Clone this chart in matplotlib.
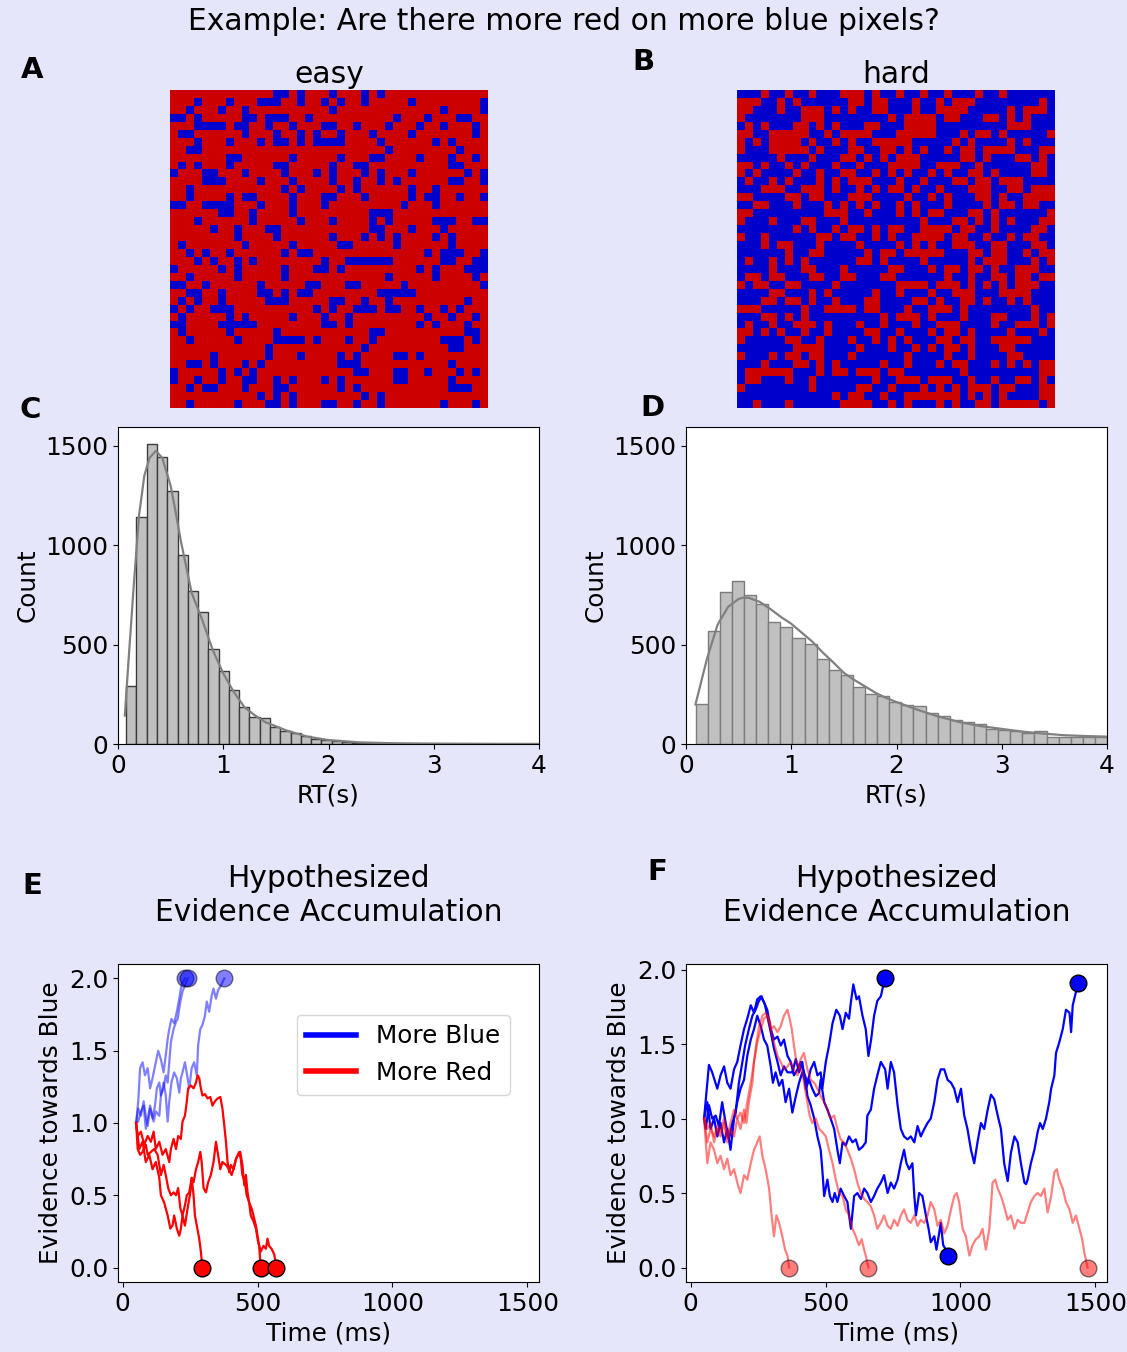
import numpy as np
import matplotlib
matplotlib.use("Agg")
import matplotlib.pyplot as plt
from matplotlib.colors import ListedColormap
from matplotlib.lines import Line2D

# ---- pixel grids (40x40): blue columns per row for "easy", red columns per row for "hard"
easy_blue_cols = [
    [13, 14, 16, 20, 24, 26],
    [3, 7, 11, 12, 13, 16, 19, 21, 24, 30, 39],
    [2, 6, 9, 20, 34, 39],
    [0, 1, 3, 9, 10, 12, 13, 14, 17, 28, 32, 36, 37],
    [3, 4, 5, 6, 8, 9, 12, 15, 19, 20, 23, 27, 31, 34, 38],
    [1, 2, 9, 13, 16, 18, 21, 25, 30, 38],
    [3, 7, 11, 13, 14, 16, 18, 19, 20, 21, 26, 33, 35],
    [2, 3, 27, 36],
    [7, 8, 15, 21, 25, 26, 31, 35, 38],
    [1, 3, 7, 13, 14, 20, 23, 24, 35, 36],
    [0, 4, 5, 9, 14, 18, 20, 24, 26, 30, 37, 39],
    [4, 5, 6, 11, 15, 20, 23, 26, 28, 35, 36, 39],
    [2, 14, 16, 21, 23, 30, 33],
    [2, 7, 9, 10, 15, 19, 20, 24, 30, 32, 33, 36, 39],
    [0, 1, 4, 5, 6, 7, 11, 15, 19, 29, 33],
    [6, 7, 10, 15, 25, 26, 27],
    [3, 10, 16, 20, 25, 27, 33, 34, 35, 38, 39],
    [5, 8, 12, 13, 25, 26, 30, 34],
    [8, 13, 20, 24, 26, 28, 33, 35],
    [1, 9, 15, 21, 22, 28, 35],
    [2, 4, 7, 14, 16, 17, 32, 34, 35, 36, 39],
    [3, 5, 8, 10, 19, 22, 23, 24, 25, 26, 27, 34, 35, 38, 39],
    [0, 6, 8, 14, 18, 19, 21, 31, 33, 37, 38, 39],
    [2, 8, 14, 27, 33, 38],
    [0, 1, 4, 11, 17, 18, 22, 23, 29, 39],
    [2, 3, 6, 11, 12, 14, 16, 17, 26, 27, 28, 29, 30],
    [1, 3, 6, 12, 13, 14, 20, 21, 24, 27, 37],
    [0, 2, 5, 6, 7, 18, 20, 23, 24, 25, 27, 28, 31, 34, 36],
    [1, 7, 9, 15, 19, 22, 32, 35, 38],
    [0, 1, 6, 7, 8, 9, 10, 19, 20, 22, 31, 33, 37],
    [1, 7, 13, 25, 26, 37, 38],
    [2, 8, 13, 14, 15, 16, 18, 22, 25, 34, 35, 36, 38],
    [12, 24, 35, 36],
    [5, 12, 16, 21, 23, 28, 29, 31],
    [2, 3, 5, 9, 11, 21, 22, 23, 35],
    [0, 6, 8, 10, 23, 24, 28, 29, 32, 36, 38],
    [0, 3, 6, 9, 10, 13, 15, 19, 21, 28, 29, 35],
    [2, 4, 5, 9, 13, 14, 21, 23, 35, 36, 37],
    [11, 13, 15, 24, 26],
    [2, 8, 12, 13, 15, 19, 20, 23, 26, 34, 38],
]

hard_red_cols = [
    [3, 6, 9, 13, 14, 15, 17, 20, 23, 26, 30, 33],
    [0, 1, 2, 5, 7, 14, 15, 17, 18, 22, 25, 27, 28, 29, 38],
    [0, 1, 5, 8, 9, 10, 12, 14, 17, 18, 22, 25, 26, 27, 28, 34, 36, 37, 38],
    [0, 8, 9, 10, 19, 21, 22, 23, 24, 26, 27, 31, 32, 34, 36],
    [1, 3, 7, 8, 10, 12, 16, 17, 21, 22, 23, 24, 34, 35, 36],
    [0, 1, 4, 5, 6, 7, 8, 11, 13, 14, 15, 16, 20, 21, 22, 23, 24, 28, 30, 31, 33, 39],
    [0, 2, 4, 5, 6, 7, 9, 12, 14, 17, 18, 19, 20, 21, 27, 29, 34, 36],
    [0, 4, 5, 6, 7, 8, 10, 14, 15, 18, 19, 21, 23, 26, 28, 29, 31, 32, 33, 34, 38, 39],
    [5, 9, 13, 14, 16, 18, 20, 21, 22, 28, 29, 31, 35, 36, 38],
    [0, 1, 3, 6, 8, 12, 15, 19, 20, 21, 22, 25, 26, 27, 30, 37, 38],
    [0, 2, 7, 10, 13, 14, 17, 19, 21, 24, 26, 29, 30, 32, 37, 38],
    [1, 4, 6, 10, 12, 14, 15, 16, 20, 23, 27, 28, 30, 31, 33, 34, 35],
    [3, 4, 5, 8, 9, 10, 12, 15, 17, 19, 20, 22, 25, 29, 30, 31, 34, 35, 37, 38, 39],
    [0, 1, 6, 7, 9, 10, 14, 15, 16, 21, 24, 26, 30, 31, 33, 36, 37, 38, 39],
    [2, 3, 7, 11, 13, 15, 17, 20, 22, 26, 31, 33, 34, 36, 37],
    [0, 1, 11, 12, 13, 16, 20, 22, 24, 25, 29, 30, 32, 39],
    [0, 4, 8, 9, 13, 23, 27, 28, 30, 32, 34, 38, 39],
    [7, 9, 12, 14, 15, 17, 19, 20, 23, 24, 25, 26, 28, 29, 32, 37, 38],
    [0, 3, 10, 11, 13, 14, 17, 19, 22, 23, 24, 25, 27, 28, 31, 34, 36, 37],
    [3, 5, 6, 10, 15, 20, 22, 24, 27, 28, 29, 32, 33, 37, 38],
    [6, 9, 10, 16, 18, 19, 21, 22, 23, 24, 25, 29, 30, 32, 33, 36, 38, 39],
    [1, 4, 6, 8, 15, 16, 18, 23, 29, 31, 32, 33, 37, 39],
    [4, 8, 9, 13, 19, 20, 24, 26, 27, 29, 30, 32, 35, 36, 37],
    [1, 2, 4, 5, 9, 10, 13, 14, 18, 19, 26, 29, 32, 33, 35, 36, 38, 39],
    [0, 2, 3, 6, 7, 12, 20, 21, 22, 23, 25, 26, 27, 29, 31, 33, 35, 36, 37],
    [4, 5, 9, 11, 17, 20, 24, 27, 28, 29, 33, 34, 35, 36],
    [3, 4, 6, 7, 9, 12, 16, 17, 22, 23, 25, 28, 29, 31, 34, 36],
    [0, 1, 2, 8, 11, 12, 13, 14, 16, 17, 21, 24, 25, 26, 28, 37],
    [3, 4, 6, 8, 18, 20, 21, 22, 24, 28, 32, 33, 37, 39],
    [1, 4, 7, 8, 9, 11, 15, 18, 22, 25, 26, 27, 32, 35, 36, 37, 39],
    [0, 1, 3, 5, 8, 11, 16, 17, 20, 24, 26, 27, 29, 34, 38],
    [0, 6, 7, 10, 14, 17, 19, 21, 25, 26, 28, 29, 32, 33, 34, 35, 36],
    [7, 8, 9, 10, 15, 19, 22, 24, 26, 27, 29, 33, 34],
    [0, 4, 6, 7, 9, 10, 14, 21, 26, 29, 34, 35],
    [3, 7, 8, 10, 12, 18, 21, 25, 27, 28, 32, 34, 36, 38, 39],
    [1, 2, 3, 4, 5, 6, 10, 12, 13, 15, 16, 17, 19, 20, 28, 38, 39],
    [1, 2, 6, 9, 17, 20, 21, 22, 24, 25, 26, 29, 32, 35, 36, 38],
    [0, 9, 15, 16, 19, 23, 25, 27, 29, 30, 31, 33, 34, 38, 39],
    [12, 14, 15, 18, 21, 22, 23, 24, 25, 26, 27, 29, 31, 33, 38, 39],
    [2, 6, 13, 14, 15, 16, 19, 21, 25, 27, 30, 31, 33, 34, 35, 36, 37, 39],
]

# ---- RT histograms (counts per bin) and KDE curves
easy_bin_start, easy_bin_width = 0.078, 0.0976
easy_counts = [294, 1144, 1507, 1444, 1274, 949, 772, 664, 476, 368, 270, 186, 135, 130,
               84, 64, 57, 39, 25, 22, 14, 12, 6, 5, 3, 3, 2, 2, 1, 1, 1, 1, 0, 1]
easy_kde_x = [0.065, 0.1, 0.15, 0.2, 0.25, 0.3, 0.36, 0.42, 0.5, 0.55, 0.6, 0.7, 0.8, 0.9,
              1.0, 1.1, 1.2, 1.3, 1.4, 1.6, 1.8, 2.0, 2.3, 2.6, 3.0, 3.5, 4.0]
easy_kde_y = [143, 420, 800, 1150, 1350, 1440, 1475, 1440, 1300, 1160, 1014, 760, 625, 473,
              355, 262, 186, 144, 110, 68, 37, 20, 8, 4, 2, 1, 0.5]

hard_bin_start, hard_bin_width = 0.091, 0.115
hard_counts = [199, 570, 767, 818, 752, 705, 614, 587, 531, 503, 430, 371, 346, 287, 250,
               243, 211, 197, 189, 155, 142, 123, 110, 101, 76, 72, 64, 57, 67, 37, 35, 35,
               34, 33]
hard_kde_x = [0.09, 0.2, 0.3, 0.4, 0.5, 0.55, 0.6, 0.7, 0.8, 0.9, 1.0, 1.1, 1.2, 1.3, 1.4,
              1.5, 1.6, 1.7, 1.8, 1.9, 2.0, 2.2, 2.4, 2.6, 2.8, 3.0, 3.2, 3.4, 3.6, 3.8, 4.0]
hard_kde_y = [199, 430, 600, 690, 730, 737, 735, 715, 680, 640, 605, 560, 515, 460, 410,
              358, 322, 290, 258, 232, 211, 172, 138, 110, 90, 76, 62, 52, 44, 40, 37]

# ---- evidence traces (time ms, evidence)
easy_blue_traces = [
    [(50, 1.0), (58, 1.15), (65, 1.38), (74, 1.42), (83, 1.33), (93, 1.38), (102, 1.24),
     (111, 1.31), (123, 1.42), (132, 1.50), (142, 1.44), (152, 1.35), (160, 1.47),
     (167, 1.58), (173, 1.65), (181, 1.72), (191, 1.69), (201, 1.77), (210, 1.86),
     (216, 1.93), (222, 1.97), (231, 2.0)],
    [(50, 1.0), (58, 1.10), (68, 1.05), (78, 1.15), (86, 1.05), (93, 0.98), (102, 1.10),
     (111, 1.03), (120, 1.12), (127, 1.24), (136, 1.28), (142, 1.19), (152, 1.24),
     (160, 1.33), (167, 1.28), (173, 1.42), (179, 1.56), (189, 1.65), (198, 1.70),
     (204, 1.72), (214, 1.84), (222, 1.91), (231, 1.95), (241, 2.0)],
    [(50, 1.0), (58, 1.01), (68, 1.08), (78, 1.12), (86, 0.96), (93, 1.03), (102, 1.12),
     (115, 1.01), (123, 1.08), (136, 1.05), (142, 1.19), (152, 1.28), (160, 1.19),
     (167, 1.01), (173, 1.15), (181, 1.28), (191, 1.35), (201, 1.31), (210, 1.21),
     (216, 1.31), (222, 1.35), (231, 1.42), (241, 1.31), (247, 1.24), (256, 1.38),
     (265, 1.42), (275, 1.33), (280, 1.54), (288, 1.65), (296, 1.68), (305, 1.74),
     (312, 1.84), (321, 1.77), (330, 1.88), (337, 1.93), (346, 1.86), (354, 1.92),
     (364, 1.95), (377, 2.0)],
]
easy_red_traces = [
    [(50, 1.0), (62, 0.82), (74, 0.87), (86, 0.73), (99, 0.78), (111, 0.68), (123, 0.73),
     (136, 0.62), (142, 0.50), (154, 0.45), (167, 0.36), (177, 0.27), (185, 0.29),
     (191, 0.36), (201, 0.27), (210, 0.22), (216, 0.27), (222, 0.36), (231, 0.29),
     (241, 0.41), (251, 0.52), (256, 0.62), (263, 0.50), (268, 0.36), (275, 0.29),
     (284, 0.20), (290, 0.11), (296, 0.0)],
    [(50, 1.0), (56, 0.91), (68, 0.94), (80, 0.85), (93, 0.91), (105, 0.87), (115, 0.94),
     (123, 0.82), (136, 0.87), (148, 0.78), (160, 0.82), (173, 0.73), (179, 0.82),
     (189, 0.89), (198, 0.82), (206, 0.91), (216, 0.89), (222, 1.01), (231, 1.05),
     (238, 1.15), (243, 1.24), (253, 1.26), (263, 1.24), (272, 1.28), (278, 1.33),
     (284, 1.31), (290, 1.24), (296, 1.19), (305, 1.20), (315, 1.17), (325, 1.18),
     (333, 1.12), (342, 1.15), (352, 1.17), (362, 1.18), (370, 1.10), (377, 0.98),
     (383, 0.87), (389, 0.73), (395, 0.66), (401, 0.71), (411, 0.68), (420, 0.75),
     (428, 0.78), (436, 0.80), (444, 0.71), (451, 0.57), (457, 0.64), (463, 0.52),
     (469, 0.45), (478, 0.41), (485, 0.36), (494, 0.29), (500, 0.22), (506, 0.15),
     (512, 0.0)],
    [(50, 1.0), (56, 0.82), (65, 0.78), (74, 0.80), (86, 0.85), (93, 0.78), (105, 0.80),
     (117, 0.82), (130, 0.78), (142, 0.64), (152, 0.71), (160, 0.64), (169, 0.55),
     (179, 0.50), (189, 0.52), (198, 0.50), (206, 0.55), (214, 0.41), (222, 0.36),
     (231, 0.43), (238, 0.50), (247, 0.52), (256, 0.62), (263, 0.59), (272, 0.68),
     (280, 0.73), (288, 0.80), (293, 0.73), (300, 0.55), (309, 0.52), (317, 0.59),
     (327, 0.64), (337, 0.73), (346, 0.87), (352, 0.80), (362, 0.68), (370, 0.73),
     (383, 0.71), (395, 0.68), (404, 0.64), (411, 0.68), (420, 0.75), (432, 0.80),
     (438, 0.75), (444, 0.64), (453, 0.59), (460, 0.50), (469, 0.45), (475, 0.36),
     (485, 0.32), (494, 0.27), (502, 0.18), (512, 0.11), (522, 0.15), (531, 0.13),
     (537, 0.20), (543, 0.15), (552, 0.13), (562, 0.09), (570, 0.0)],
]

hard_blue_traces = [
    [(50, 1.0), (68, 1.36), (80, 1.31), (99, 1.20), (111, 1.29), (124, 1.35), (136, 1.24),
     (148, 1.20), (161, 1.33), (173, 1.38), (185, 1.49), (198, 1.60), (210, 1.67),
     (223, 1.76), (235, 1.71), (247, 1.80), (260, 1.82), (272, 1.78), (284, 1.73),
     (297, 1.60), (309, 1.53), (322, 1.55), (334, 1.49), (346, 1.53), (359, 1.42),
     (371, 1.38), (383, 1.29), (396, 1.33), (408, 1.38), (420, 1.31), (433, 1.24),
     (445, 1.33), (458, 1.38), (470, 1.29), (482, 1.31), (488, 1.20), (501, 1.38),
     (513, 1.49), (526, 1.64), (540, 1.73), (553, 1.69), (563, 1.60), (575, 1.71),
     (587, 1.67), (594, 1.78), (603, 1.90), (615, 1.80), (624, 1.82), (637, 1.69),
     (649, 1.60), (659, 1.42), (669, 1.53), (680, 1.69), (692, 1.79), (705, 1.82),
     (711, 1.87), (721, 1.94)],
    [(50, 1.0), (56, 0.93), (68, 1.09), (80, 1.00), (93, 1.02), (105, 0.95), (117, 1.11),
     (130, 0.97), (142, 0.86), (155, 0.97), (167, 1.04), (179, 1.24), (192, 1.38),
     (202, 1.49), (216, 1.60), (229, 1.69), (241, 1.73), (251, 1.78), (263, 1.82),
     (276, 1.76), (284, 1.69), (297, 1.58), (309, 1.47), (322, 1.38), (334, 1.29),
     (346, 1.35), (359, 1.31), (377, 1.31), (390, 1.40), (402, 1.31), (414, 1.38),
     (427, 1.20), (439, 1.26), (451, 1.20), (464, 1.15), (476, 1.17), (482, 1.26),
     (495, 1.11), (507, 1.06), (519, 1.00), (532, 0.93), (544, 0.79), (553, 0.70),
     (563, 0.84), (575, 0.82), (587, 0.88), (600, 0.84), (612, 0.86), (624, 0.79),
     (637, 0.81), (649, 0.84), (655, 1.02), (668, 1.06), (680, 1.20), (692, 1.29),
     (705, 1.38), (721, 1.33), (730, 1.20), (742, 1.38), (754, 1.31), (767, 1.09),
     (779, 0.93), (791, 0.88), (804, 0.86), (816, 0.88), (829, 0.84), (841, 0.95),
     (853, 0.88), (866, 0.93), (878, 0.97), (890, 1.00), (903, 1.11), (915, 1.26),
     (927, 1.33), (940, 1.33), (952, 1.26), (965, 1.24), (977, 1.20), (989, 1.11),
     (1002, 1.20), (1014, 1.02), (1026, 0.93), (1039, 0.79), (1051, 0.70), (1063, 0.84),
     (1076, 0.97), (1088, 0.93), (1101, 1.06), (1113, 1.16), (1125, 1.13), (1138, 1.02),
     (1150, 0.93), (1162, 0.70), (1175, 0.58), (1187, 0.77), (1200, 0.88), (1212, 0.84),
     (1224, 0.70), (1237, 0.57), (1243, 0.56), (1249, 0.59), (1261, 0.70), (1274, 0.79),
     (1286, 0.91), (1295, 0.97), (1305, 0.93), (1317, 1.00), (1329, 1.11), (1336, 1.20),
     (1348, 1.29), (1354, 1.44), (1366, 1.51), (1379, 1.60), (1391, 1.73), (1404, 1.71),
     (1410, 1.58), (1416, 1.76), (1428, 1.85), (1437, 1.91)],
    [(50, 1.0), (62, 1.11), (74, 0.93), (87, 1.00), (99, 0.88), (111, 0.97), (124, 0.84),
     (136, 0.93), (148, 0.79), (161, 1.00), (173, 1.11), (185, 1.20), (198, 1.26),
     (210, 1.42), (223, 1.53), (235, 1.60), (247, 1.69), (260, 1.62), (272, 1.53),
     (284, 1.49), (297, 1.35), (305, 1.24), (315, 1.31), (328, 1.22), (340, 1.26),
     (352, 1.11), (365, 1.20), (377, 1.04), (390, 1.15), (402, 1.24), (414, 1.31),
     (427, 1.24), (433, 1.15), (445, 1.09), (458, 1.00), (470, 0.88), (482, 0.79),
     (488, 0.66), (495, 0.48), (507, 0.59), (516, 0.48), (526, 0.44), (534, 0.50),
     (544, 0.44), (556, 0.53), (569, 0.48), (581, 0.44), (594, 0.26), (600, 0.37),
     (606, 0.48), (618, 0.50), (631, 0.46), (643, 0.53), (655, 0.50), (668, 0.44),
     (680, 0.48), (692, 0.53), (705, 0.57), (717, 0.62), (730, 0.50), (742, 0.57),
     (754, 0.53), (767, 0.59), (779, 0.70), (791, 0.79), (800, 0.70), (810, 0.66),
     (822, 0.70), (829, 0.48), (835, 0.35), (847, 0.50), (859, 0.48), (872, 0.35),
     (882, 0.26), (890, 0.17), (903, 0.21), (911, 0.12), (921, 0.23), (927, 0.30),
     (936, 0.15), (946, 0.12), (955, 0.08)],
]
hard_red_traces = [
    [(50, 1.0), (62, 0.70), (74, 0.84), (87, 0.79), (99, 0.70), (111, 0.75), (124, 0.66),
     (136, 0.73), (148, 0.62), (161, 0.66), (173, 0.57), (185, 0.50), (198, 0.62),
     (210, 0.59), (223, 0.70), (235, 0.79), (247, 0.84), (256, 0.88), (266, 0.75),
     (278, 0.66), (291, 0.53), (300, 0.35), (309, 0.21), (318, 0.35), (328, 0.30),
     (340, 0.21), (350, 0.12), (359, 0.08), (365, 0.0)],
    [(50, 1.0), (62, 0.93), (74, 0.97), (87, 0.84), (99, 0.93), (111, 0.88), (124, 0.97),
     (136, 0.84), (148, 0.93), (161, 0.88), (173, 1.00), (185, 0.93), (198, 1.06),
     (207, 0.97), (216, 1.11), (229, 1.24), (235, 1.38), (244, 1.51), (254, 1.62),
     (266, 1.69), (278, 1.71), (291, 1.67), (300, 1.60), (309, 1.62), (322, 1.58),
     (334, 1.62), (346, 1.69), (359, 1.73), (367, 1.67), (375, 1.60), (383, 1.49),
     (392, 1.38), (402, 1.35), (414, 1.31), (424, 1.20), (433, 1.11), (441, 1.02),
     (451, 0.97), (464, 1.00), (476, 0.93), (488, 0.91), (501, 0.88), (513, 0.79),
     (526, 0.70), (538, 0.59), (550, 0.50), (563, 0.48), (575, 0.39), (587, 0.35),
     (600, 0.26), (612, 0.21), (624, 0.15), (634, 0.19), (643, 0.12), (649, 0.08),
     (659, 0.0)],
    [(50, 1.0), (62, 0.84), (74, 0.93), (87, 0.88), (99, 0.95), (111, 0.91), (124, 1.00),
     (136, 0.88), (148, 0.97), (161, 1.06), (173, 1.00), (185, 1.04), (198, 0.97),
     (210, 1.11), (223, 1.24), (235, 1.38), (247, 1.51), (260, 1.60), (272, 1.67),
     (284, 1.69), (297, 1.60), (309, 1.51), (322, 1.42), (334, 1.38), (346, 1.33),
     (359, 1.35), (371, 1.38), (383, 1.33), (396, 1.29), (408, 1.40), (420, 1.44),
     (433, 1.33), (445, 1.26), (458, 1.24), (470, 1.20), (482, 1.15), (495, 1.11),
     (507, 1.06), (519, 1.00), (532, 1.02), (544, 0.93), (556, 0.86), (569, 0.84),
     (581, 0.79), (594, 0.73), (606, 0.66), (618, 0.57), (631, 0.50), (643, 0.46),
     (655, 0.44), (668, 0.41), (680, 0.35), (692, 0.26), (705, 0.30), (717, 0.35),
     (730, 0.28), (742, 0.26), (754, 0.32), (767, 0.28), (779, 0.35), (791, 0.39),
     (804, 0.32), (816, 0.30), (829, 0.35), (841, 0.28), (853, 0.32), (866, 0.30),
     (878, 0.35), (890, 0.44), (903, 0.39), (915, 0.28), (927, 0.32), (940, 0.23),
     (952, 0.28), (965, 0.39), (977, 0.48), (986, 0.50), (995, 0.44), (1008, 0.26),
     (1020, 0.21), (1033, 0.08), (1045, 0.15), (1057, 0.19), (1070, 0.21), (1082, 0.26),
     (1094, 0.12), (1107, 0.26), (1119, 0.57), (1129, 0.59), (1138, 0.53), (1150, 0.48),
     (1162, 0.41), (1175, 0.32), (1187, 0.35), (1200, 0.26), (1212, 0.32), (1224, 0.30),
     (1237, 0.30), (1249, 0.37), (1261, 0.44), (1274, 0.48), (1286, 0.50), (1298, 0.48),
     (1311, 0.53), (1323, 0.37), (1336, 0.48), (1348, 0.64), (1357, 0.66), (1366, 0.59),
     (1379, 0.53), (1391, 0.44), (1404, 0.39), (1416, 0.30), (1428, 0.35), (1441, 0.26),
     (1451, 0.19), (1459, 0.10), (1471, 0.0)],
]

plt.rcParams["font.size"] = 17.8
plt.rcParams["axes.titlesize"] = 21.4
W, H = 1127, 1352
fig = plt.figure(figsize=(W / 100, H / 100), dpi=100, facecolor="lavender")
fig.suptitle("Example: Are there more red on more blue pixels?", y=1 - 22 / H,
             va="center", fontsize=21.4)


def box(left, top, width, height):
    return [left / W, 1 - (top + height) / H, width / W, height / H]


grid_cmap = ListedColormap(["#cc0000", "#0000cc"])

easy_grid = np.zeros((40, 40))
for r, cols in enumerate(easy_blue_cols):
    easy_grid[r, cols] = 1
hard_grid = np.ones((40, 40))
for r, cols in enumerate(hard_red_cols):
    hard_grid[r, cols] = 0

for grid, left, title in [(easy_grid, 170, "easy"), (hard_grid, 737, "hard")]:
    ax = fig.add_axes(box(left, 90, 318, 318))
    ax.imshow(grid, cmap=grid_cmap, vmin=0, vmax=1, interpolation="nearest")
    ax.set_axis_off()
    ax.set_title(title, pad=5)

# histograms
for left, start, width, counts, kx, ky, edge in [
        (118, easy_bin_start, easy_bin_width, easy_counts, easy_kde_x, easy_kde_y, "#3c3c3c"),
        (686, hard_bin_start, hard_bin_width, hard_counts, hard_kde_x, hard_kde_y, "#7c7c7c")]:
    ax = fig.add_axes(box(left, 427, 421, 317))
    lefts = start + width * np.arange(len(counts))
    ax.bar(lefts, counts, width=width, align="edge", color="#c0c0c0",
           edgecolor=edge, linewidth=1)
    ax.plot(kx, ky, color="gray", lw=1.6)
    ax.set_xlim(0, 4)
    ax.set_ylim(0, 1595)
    ax.set_xticks([0, 1, 2, 3, 4])
    ax.set_yticks([0, 500, 1000, 1500])
    ax.set_xlabel("RT(s)")
    ax.set_ylabel("Count")

# evidence accumulation panels
panels = [
    (118, easy_blue_traces, easy_red_traces, 0.5, 1.0),
    (686, hard_blue_traces, hard_red_traces, 1.0, 0.5),
]
for left, blues, reds, a_blue, a_red in panels:
    ax = fig.add_axes(box(left, 964, 421, 318))
    for tr in blues:
        t, v = zip(*tr)
        ax.plot(t, v, color="blue", lw=1.6, alpha=a_blue)
    for tr in reds:
        t, v = zip(*tr)
        ax.plot(t, v, color="red", lw=1.6, alpha=a_red)
    for tr in blues:
        ax.plot(tr[-1][0], tr[-1][1], "o", ms=12, color="blue", mec="black",
                alpha=a_blue)
    for tr in reds:
        ax.plot(tr[-1][0], tr[-1][1], "o", ms=12, color="red", mec="black",
                alpha=a_red)
    ax.set_xlim(-17, 1543)
    ax.set_xticks([0, 500, 1000, 1500])
    ax.set_yticks([0.0, 0.5, 1.0, 1.5, 2.0])
    ax.set_xlabel("Time (ms)")
    ax.set_ylabel("Evidence towards Blue")
    ax.set_title("Hypothesized\nEvidence Accumulation", pad=31)
    if left == 118:
        handles = [Line2D([], [], color="blue", lw=4), Line2D([], [], color="red", lw=4)]
        ax.legend(handles, ["More Blue", "More Red"], loc="upper right",
                  bbox_to_anchor=(0.96, 0.88))

for letter, x, y in [("A", 32, 70), ("B", 643, 62), ("C", 30, 410), ("D", 652, 408),
                     ("E", 32, 886), ("F", 657, 872)]:
    fig.text(x / W, 1 - y / H, letter, fontsize=21, fontweight="bold",
             ha="center", va="center")

fig.savefig("out.png", dpi=100, facecolor=fig.get_facecolor())
